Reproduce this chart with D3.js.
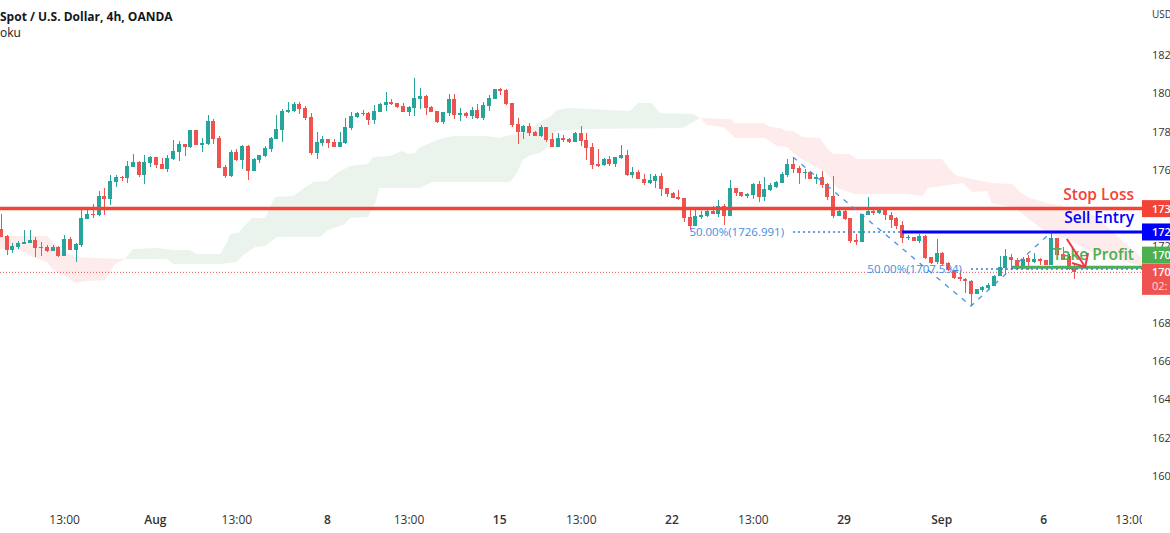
<!DOCTYPE html>
<html>
<head>
<meta charset="utf-8">
<script src="https://cdn.jsdelivr.net/npm/d3@7/dist/d3.min.js"></script>
<style>
  html, body { margin: 0; padding: 0; background: #fff; overflow: hidden; }
  svg { display: block; font-family: "Open Sans", sans-serif; }
  .axis text { fill: #333; font-size: 12px; font-family: "Open Sans", sans-serif; }
  .price-axis text { font-size: 11px; }
  .axis path, .axis line { display: none; }
</style>
</head>
<body>
<svg id="board" width="1170" height="533"></svg>
<script>
// 4h candles, oldest first
var opens = [
  1728.5,1724.9,1717.6,1719.1,1720.7,1721.2,1722.8,1719.1,1719.1,1717.0,
  1719.1,1714.4,1723.3,1717.6,1720.2,1733.8,1736.4,1735.9,1745.8,1744.2,
  1753.1,1755.7,1755.2,1761.0,1763.6,1756.8,1763.0,1766.2,1762.5,1759.9,
  1765.1,1768.8,1773.0,1771.4,1780.3,1772.4,1773.0,1785.0,1776.1,1761.0,
  1756.2,1768.8,1764.6,1771.9,1758.8,1764.6,1766.7,1770.3,1775.6,1780.3,
  1789.7,1790.2,1793.9,1791.8,1787.1,1768.3,1773.5,1775.6,1774.0,1771.4,
  1773.5,1781.3,1787.1,1789.2,1789.2,1785.5,1789.7,1793.3,1794.9,1794.4,
  1792.8,1789.7,1791.8,1796.5,1798.0,1792.3,1790.2,1784.4,1789.2,1796.5,
  1788.1,1789.2,1787.6,1790.7,1786.5,1792.8,1796.5,1801.7,1801.2,1794.4,
  1783.4,1779.2,1782.4,1779.2,1777.1,1781.8,1775.6,1771.4,1776.1,1775.6,
  1774.0,1778.7,1775.0,1771.4,1762.5,1762.0,1765.1,1762.5,1765.6,1767.2,
  1756.7,1758.3,1754.6,1752.6,1753.6,1756.2,1749.9,1747.3,1745.2,1744.7,
  1734.8,1730.1,1734.8,1735.3,1737.9,1736.4,1740.5,1735.3,1749.9,1747.9,
  1745.8,1746.3,1752.0,1745.2,1748.9,1750.5,1752.6,1756.7,1762.5,1760.4,
  1757.8,1758.3,1754.6,1755.7,1752.0,1745.8,1735.3,1737.9,1734.3,1722.8,
  1721.8,1735.9,1738.0,1736.9,1739.5,1735.9,1734.3,1730.7,1723.9,1724.4,
  1722.3,1724.9,1713.9,1711.3,1716.0,1710.8,1706.6,1703.5,1702.4,1701.4,
  1694.6,1696.7,1697.7,1698.8,1704.0,1708.2,1713.9,1712.4,1708.2,1713.4,
  1711.3,1712.9,1712.4,1709.8,1723.9,1715.5,1714.5,1708.2
];
var highs = [
  1736.4,1725.4,1721.1,1722.3,1728.0,1728.0,1724.4,1721.8,1720.2,1720.2,
  1719.7,1725.4,1724.4,1721.2,1740.0,1740.0,1741.6,1748.4,1750.0,1756.8,
  1756.8,1756.2,1764.1,1767.8,1764.1,1767.2,1766.7,1766.2,1765.6,1767.2,
  1775.0,1774.5,1773.0,1780.3,1780.3,1776.1,1788.1,1786.0,1777.1,1762.0,
  1769.8,1770.3,1772.4,1772.4,1765.6,1767.2,1771.9,1776.6,1788.1,1791.2,
  1794.9,1794.9,1794.9,1792.8,1789.2,1779.2,1777.1,1775.6,1775.6,1779.2,
  1786.5,1789.7,1789.7,1790.7,1789.7,1793.3,1794.4,1800.1,1796.5,1794.4,
  1794.4,1792.8,1807.4,1802.2,1798.6,1792.8,1790.2,1789.7,1799.1,1799.1,
  1791.8,1789.7,1792.3,1793.9,1794.9,1798.6,1801.7,1802.2,1801.7,1794.4,
  1786.5,1782.9,1784.0,1779.7,1782.9,1781.8,1778.7,1778.7,1777.7,1776.1,
  1779.2,1782.3,1778.7,1773.5,1770.3,1765.6,1766.7,1766.1,1772.4,1769.8,
  1760.9,1759.4,1757.3,1757.3,1757.3,1757.8,1749.9,1747.9,1748.9,1744.7,
  1738.5,1740.0,1737.9,1739.0,1740.5,1743.7,1741.6,1754.1,1749.9,1747.9,
  1747.3,1752.6,1753.6,1755.7,1752.6,1753.6,1758.3,1765.1,1766.1,1761.4,
  1759.9,1758.8,1757.3,1758.8,1752.6,1756.2,1739.5,1740.0,1734.3,1726.0,
  1736.4,1745.3,1738.5,1740.1,1740.1,1737.5,1734.8,1732.8,1725.4,1724.4,
  1726.0,1725.4,1713.9,1723.3,1716.6,1711.3,1707.2,1707.2,1703.0,1701.9,
  1697.2,1698.8,1700.4,1704.5,1714.5,1718.1,1715.5,1713.4,1713.9,1715.0,
  1716.0,1713.4,1712.4,1727.0,1723.9,1719.2,1715.5,1710.8
];
var lows = [
  1724.5,1715.0,1716.2,1718.3,1720.7,1721.2,1714.1,1714.4,1716.5,1717.0,
  1713.9,1714.4,1717.6,1711.3,1719.1,1733.8,1734.3,1735.3,1735.9,1741.1,
  1750.5,1753.6,1752.6,1761.0,1755.7,1752.1,1761.0,1760.4,1759.9,1758.3,
  1764.6,1764.1,1766.7,1770.9,1772.4,1768.8,1772.4,1773.0,1760.4,1755.2,
  1755.7,1764.1,1759.9,1754.2,1758.8,1763.0,1766.2,1768.8,1775.6,1774.0,
  1789.2,1789.7,1788.6,1785.5,1767.2,1765.1,1771.9,1770.9,1771.4,1771.4,
  1773.0,1780.3,1786.5,1787.6,1782.9,1783.4,1789.7,1790.2,1793.3,1791.8,
  1789.7,1787.6,1787.6,1791.2,1788.1,1789.7,1783.9,1783.4,1787.6,1786.0,
  1785.0,1786.5,1786.0,1786.0,1785.5,1790.2,1796.5,1798.6,1793.3,1781.8,
  1773.0,1775.6,1777.1,1777.1,1776.6,1774.0,1771.4,1771.4,1774.0,1773.5,
  1774.0,1771.9,1764.6,1759.9,1760.9,1761.4,1761.4,1760.9,1765.1,1756.2,
  1755.2,1754.6,1751.5,1752.0,1749.9,1745.8,1745.2,1744.7,1743.7,1732.2,
  1728.0,1730.1,1733.7,1734.8,1736.4,1734.8,1730.6,1735.3,1745.8,1745.2,
  1744.7,1744.2,1742.6,1743.1,1748.4,1749.9,1752.6,1755.7,1757.8,1752.0,
  1754.6,1754.6,1752.0,1749.9,1743.7,1734.3,1735.3,1733.2,1721.2,1720.2,
  1721.8,1735.9,1735.9,1736.4,1733.3,1729.1,1728.6,1721.3,1722.8,1722.3,
  1721.3,1712.9,1710.3,1710.3,1709.8,1706.6,1702.4,1701.4,1695.1,1688.3,
  1694.6,1695.7,1697.2,1698.8,1704.0,1704.5,1707.7,1707.2,1707.7,1707.2,
  1710.8,1709.8,1709.8,1709.8,1715.0,1712.4,1707.2,1702.4
];
var closes = [
  1724.5,1717.6,1719.7,1721.2,1721.8,1722.8,1718.6,1718.6,1717.0,1719.1,
  1714.4,1723.3,1717.6,1720.7,1734.3,1736.4,1735.9,1745.8,1744.2,1753.6,
  1755.7,1755.2,1761.5,1763.6,1756.8,1763.6,1766.2,1762.0,1759.9,1765.6,
  1769.3,1773.0,1771.4,1780.3,1772.4,1773.5,1785.0,1775.6,1760.4,1756.2,
  1768.8,1764.6,1771.9,1758.8,1765.1,1767.2,1770.9,1776.1,1780.8,1790.2,
  1790.7,1793.9,1791.2,1786.5,1768.3,1774.0,1775.6,1773.5,1771.4,1774.0,
  1781.8,1787.6,1789.2,1788.6,1785.5,1790.2,1793.9,1794.9,1793.9,1792.3,
  1789.7,1792.3,1797.0,1798.0,1791.8,1789.7,1784.4,1789.7,1796.5,1788.1,
  1789.2,1787.6,1790.7,1786.5,1793.3,1797.0,1801.7,1800.7,1793.9,1782.9,
  1779.2,1782.4,1778.7,1777.1,1781.8,1775.0,1771.4,1776.1,1775.0,1774.0,
  1778.7,1774.5,1770.8,1762.0,1761.4,1765.1,1762.5,1766.1,1767.2,1756.7,
  1758.3,1754.6,1752.6,1754.1,1756.2,1749.4,1746.8,1744.7,1744.2,1734.3,
  1730.1,1735.3,1735.8,1737.9,1736.4,1740.5,1735.3,1749.9,1747.3,1745.8,
  1746.8,1752.0,1745.2,1749.4,1751.5,1753.1,1757.3,1762.5,1759.9,1757.8,
  1758.3,1754.6,1755.7,1751.5,1745.2,1735.3,1737.9,1733.7,1722.3,1721.7,
  1736.4,1738.0,1736.9,1739.5,1735.9,1733.3,1730.1,1723.9,1724.4,1722.3,
  1724.9,1713.4,1710.8,1716.0,1710.3,1707.2,1703.0,1702.4,1701.4,1694.6,
  1697.2,1698.3,1699.3,1704.0,1708.7,1714.5,1712.4,1707.7,1712.9,1711.3,
  1712.9,1711.9,1709.8,1723.9,1715.0,1712.4,1707.7,1706.1
];

// ichimoku cloud edges as [bar, price]
var bearCloudLeftTop = [[-0.2,1724.9],[8,1724.9],[10.3,1717.6],[13.2,1713.9],[16.7,1713.4],[21.6,1712.9]];
var bearCloudLeftBottom = [[-0.2,1718.1],[3.3,1717.6],[5.6,1713.9],[8,1711.3],[9.1,1707.1],[11.5,1703.5],[12.9,1700.3],[15,1701.4],[18.1,1701.9],[19.9,1710.3],[21.6,1712.9]];
var bullCloudTop = [
  [21.6,1712.9],[23,1718.1],[27.2,1718.6],[30,1717.6],[32.9,1717.6],[34.1,1715.5],[38.2,1715.5],[39.4,1721.8],
  [39.9,1725.9],[41.3,1726.5],[43.7,1734.3],[46,1734.3],[47.7,1745.3],[50.9,1745.8],[52.6,1749.4],[54.4,1753.1],
  [56.8,1753.6],[58.5,1757.8],[60.8,1761.5],[63.9,1762.5],[64.8,1766.2],[67.8,1766.7],[69.9,1769.3],[70.9,1767.7],
  [72.1,1768.3],[73,1771.4],[76.5,1775.6],[78.7,1777.1],[84.7,1777.1],[86.9,1776.1],[88.7,1777.7],[90.4,1778.2],
  [92.7,1781.8],[93.9,1784.5],[95.6,1787.1],[96.9,1790.7],[98.8,1791.8],[106.1,1790.7],[109.6,1790.2],[111,1794.4],
  [113.4,1794.4],[114.8,1789.2],[120.6,1788.6],[121.8,1786.5]
];
var bullCloudBottom = [
  [21.6,1712.9],[28.9,1712.9],[30,1710.3],[38.2,1710.3],[41.1,1711.3],[42.2,1715],[44.3,1719.1],[46,1719.7],
  [48.1,1724.4],[55.6,1724.4],[57,1728],[59.9,1731.2],[60.8,1734.3],[63.9,1734.8],[65.2,1742.1],[65.9,1750],
  [73,1750],[75.1,1753.1],[88.7,1753.1],[89.9,1757.8],[90.9,1764.6],[92.2,1767.2],[93.9,1768.3],[95.1,1770.9],
  [96.7,1779.8],[101.4,1780.8],[118.8,1781.3],[121.8,1786.5]
];
var bearCloudRightTop = [
  [121.8,1786.5],[127,1786],[127.9,1783.9],[132.8,1783.9],[134,1781.8],[135.7,1781.3],[136.9,1779.8],[138,1779.8],
  [139.7,1776.6],[142.7,1776.1],[143.9,1770.9],[145,1767.7],[147.9,1767.7],[149.1,1765.1],[163.9,1765.1],[165.9,1757.8],
  [166.7,1756.2],[172.6,1752.6],[176.3,1752],[177.5,1747.9],[179.3,1744.7],[182.2,1742.1],[186.8,1739.5],[191,1734.8],
  [193.7,1727],[198.8,1713.4]
];
var bearCloudRightBottom = [
  [121.8,1786.5],[123,1782.9],[125.8,1781.8],[127,1778.7],[127.9,1776.1],[133.1,1776.1],[135.2,1771.9],[136.9,1771.4],
  [138.9,1766.2],[141.5,1762],[143.9,1757.8],[145.6,1750],[148.8,1746.8],[157.8,1746.8],[160.5,1745.8],[161.5,1750],
  [167.6,1752.6],[169.2,1747.9],[171.8,1748.4],[172.6,1742.1],[176.7,1739.5],[182.2,1726.5],[186.2,1722.8],[189.2,1717.6],
  [193.7,1713.4],[198.8,1709.2]
];

// 1700 and 1740 sit behind the price tags, so they are left out
var priceTicks = [1600,1620,1640,1660,1680,1720,1760,1780,1800,1820];
var timeTickBars = [11,26.8,41,56.8,71,86.8,101,116.8,131,146.8,163.8,181.6,196.7];
var timeTickLabels = ['13:00','Aug','13:00','8','13:00','15','13:00','22','13:00','29','Sep','6','13:00'];

var stopLoss = 1739.2;
var sellEntry = 1726.991;
var takeProfit = 1708.6;
var lastPrice = 1705.9;
var zigzag = [[138,1766.1],[169,1688.3],[183,1727]];
var fibLevels = [
  {fromBar: 138, toBar: 157, price: 1726.991, label: '50.00%(1726.991)'},
  {fromBar: 169, toBar: 199, price: 1707.594, label: '50.00%(1707.594)'}
];
var arrowShaft = [[185.7,1723.3],[188.9,1708.7]];
var arrowHead = [[189.4,1716],[188.9,1708.7],[186.6,1710.8]];

var tradeLabels = [
  {text: 'Stop Loss', price: 1746.3, color: '#f44336'},
  {text: 'Sell Entry', price: 1734.3, color: '#0000ff'},
  {text: 'Take Profit', price: 1715, color: '#4caf50'}
];
var priceTags = [
  {text: '173', price: 1739.2, color: '#f44336', rows: 1},
  {text: '172', price: 1726.991, color: '#0000ff', rows: 1},
  {text: '170', price: 1714.9, color: '#4caf50', rows: 1},
  {text: '170', sub: '02:', price: 1705.9, color: '#ef5350', rows: 2}
];

var upColor = '#26a69a';
var downColor = '#ef5350';
var plotRight = 1142;

var xScale = d3.scaleLinear().domain([0, 187]).range([1, 1074.3]);
var yScale = d3.scaleLinear().domain([1600, 1820]).range([475, 54]);
var line = d3.line().x(function(d) { return xScale(d[0]); }).y(function(d) { return yScale(d[1]); });

var board = d3.select('#board');
board.append('defs').append('clipPath').attr('id', 'plot-clip')
  .append('rect').attr('width', plotRight).attr('height', 533);

var plot = board.append('g').attr('clip-path', 'url(#plot-clip)');

renderHeader();
renderAxes();
renderCloud();
renderCandles();
renderLevels();
renderFibs();
renderTradeLabels();
renderPriceTags();

function renderHeader() {
  board.append('text').attr('x', 0).attr('y', 21)
    .attr('font-size', 12).attr('font-weight', 700).attr('fill', '#131722')
    .text('Spot / U.S. Dollar, 4h, OANDA');
  board.append('text').attr('x', 0).attr('y', 37)
    .attr('font-size', 12).attr('fill', '#131722')
    .text('oku');
  board.append('text').attr('x', 1152).attr('y', 18)
    .attr('font-size', 10).attr('fill', '#333')
    .text('USD');
}

function renderAxes() {
  // the window cuts the last digit off in the reference
  var priceAxis = d3.axisRight(yScale)
    .tickValues(priceTicks)
    .tickFormat(function(d) { return String(d / 10); })
    .tickSize(0)
    .tickPadding(0);
  board.append('g').attr('class', 'axis price-axis')
    .attr('transform', 'translate(1152,1)')
    .call(priceAxis);

  var timeAxis = d3.axisBottom(xScale)
    .tickValues(timeTickBars)
    .tickFormat(function(d, i) { return timeTickLabels[i]; })
    .tickSize(0)
    .tickPadding(0);
  var timeG = plot.append('g').attr('class', 'axis')
    .attr('transform', 'translate(0,515)')
    .call(timeAxis);
  timeG.selectAll('text')
    .attr('font-weight', function(d, i) { return timeTickLabels[i] === '13:00' ? 400 : 600; });
}

function renderCloud() {
  var pieces = [
    {top: bearCloudLeftTop, bottom: bearCloudLeftBottom, fill: '#fdeceb'},
    {top: bullCloudTop, bottom: bullCloudBottom, fill: '#ebf4ec'},
    {top: bearCloudRightTop, bottom: bearCloudRightBottom, fill: '#fdeceb'}
  ];
  plot.append('g').selectAll('path').data(pieces).enter().append('path')
    .attr('fill', function(d) { return d.fill; })
    .attr('d', function(d) {
      return line(d.top.concat(d.bottom.slice().reverse())) + 'Z';
    });
}

function renderCandles() {
  var candles = plot.append('g').attr('shape-rendering', 'crispEdges')
    .selectAll('g').data(opens).enter().append('g')
    .attr('fill', function(d, i) { return closes[i] >= opens[i] ? upColor : downColor; });

  candles.append('rect')
    .attr('x', function(d, i) { return Math.round(xScale(i)) - 0.5; })
    .attr('width', 1)
    .attr('y', function(d, i) { return yScale(highs[i]); })
    .attr('height', function(d, i) { return yScale(lows[i]) - yScale(highs[i]); });

  candles.append('rect')
    .attr('x', function(d, i) { return Math.round(xScale(i)) - 2; })
    .attr('width', 4)
    .attr('y', function(d, i) { return yScale(Math.max(opens[i], closes[i])); })
    .attr('height', function(d, i) {
      return Math.max(1, Math.abs(yScale(opens[i]) - yScale(closes[i])));
    });
}

function renderLevels() {
  plot.append('line')
    .attr('x1', 0).attr('x2', plotRight)
    .attr('y1', yScale(lastPrice)).attr('y2', yScale(lastPrice))
    .attr('stroke', downColor).attr('stroke-dasharray', '1 2');

  plot.append('line')
    .attr('x1', 0).attr('x2', plotRight)
    .attr('y1', yScale(stopLoss)).attr('y2', yScale(stopLoss))
    .attr('stroke', '#f44336').attr('stroke-width', 3.5);

  plot.append('line')
    .attr('x1', xScale(157)).attr('x2', plotRight)
    .attr('y1', yScale(sellEntry)).attr('y2', yScale(sellEntry))
    .attr('stroke', '#0000ff').attr('stroke-width', 3);

  plot.append('line')
    .attr('x1', xScale(176)).attr('x2', plotRight)
    .attr('y1', yScale(takeProfit)).attr('y2', yScale(takeProfit))
    .attr('stroke', '#4caf50').attr('stroke-width', 3);
}

function renderFibs() {
  plot.append('path')
    .attr('d', line(zigzag))
    .attr('fill', 'none')
    .attr('stroke', '#4a90e2')
    .attr('stroke-width', 1.3)
    .attr('stroke-dasharray', '5 6');

  var levels = plot.append('g').selectAll('g').data(fibLevels).enter().append('g');
  levels.append('line')
    .attr('x1', function(d) { return xScale(d.fromBar); })
    .attr('x2', function(d) { return Math.min(plotRight, xScale(d.toBar)); })
    .attr('y1', function(d) { return yScale(d.price); })
    .attr('y2', function(d) { return yScale(d.price); })
    .attr('stroke', '#2f80d8')
    .attr('stroke-width', 1.5)
    .attr('stroke-dasharray', '2 3');
  levels.append('text')
    .attr('x', function(d) { return xScale(d.fromBar) - 9; })
    .attr('y', function(d) { return yScale(d.price) + 4; })
    .attr('text-anchor', 'end')
    .attr('font-size', 11.5)
    .attr('fill', '#3d8fdf')
    .text(function(d) { return d.label; });
}

function renderTradeLabels() {
  plot.append('g').selectAll('text').data(tradeLabels).enter().append('text')
    .attr('x', 1134)
    .attr('y', function(d) { return yScale(d.price); })
    .attr('dy', '0.35em')
    .attr('text-anchor', 'end')
    .attr('font-size', 15.5)
    .attr('font-weight', 600)
    .attr('fill', function(d) { return d.color; })
    .text(function(d) { return d.text; });

  var arrow = plot.append('g').attr('fill', 'none').attr('stroke', '#f23645').attr('stroke-width', 2);
  arrow.append('path').attr('d', line(arrowShaft));
  arrow.append('path').attr('d', line(arrowHead));
}

function renderPriceTags() {
  var tags = board.append('g').selectAll('g').data(priceTags).enter().append('g')
    .attr('transform', function(d) { return 'translate(1142,' + yScale(d.price) + ')'; });

  tags.append('rect')
    .attr('y', -8.5)
    .attr('width', 28)
    .attr('height', function(d) { return d.rows === 2 ? 31 : 17; })
    .attr('fill', function(d) { return d.color; });

  tags.append('text')
    .attr('x', 10).attr('y', 4)
    .attr('font-size', 11).attr('font-weight', 600).attr('fill', '#fff')
    .text(function(d) { return d.text; });

  tags.filter(function(d) { return d.sub; }).append('text')
    .attr('x', 10).attr('y', 18)
    .attr('font-size', 11).attr('fill', '#fdd')
    .text(function(d) { return d.sub; });
}
</script>
</body>
</html>
